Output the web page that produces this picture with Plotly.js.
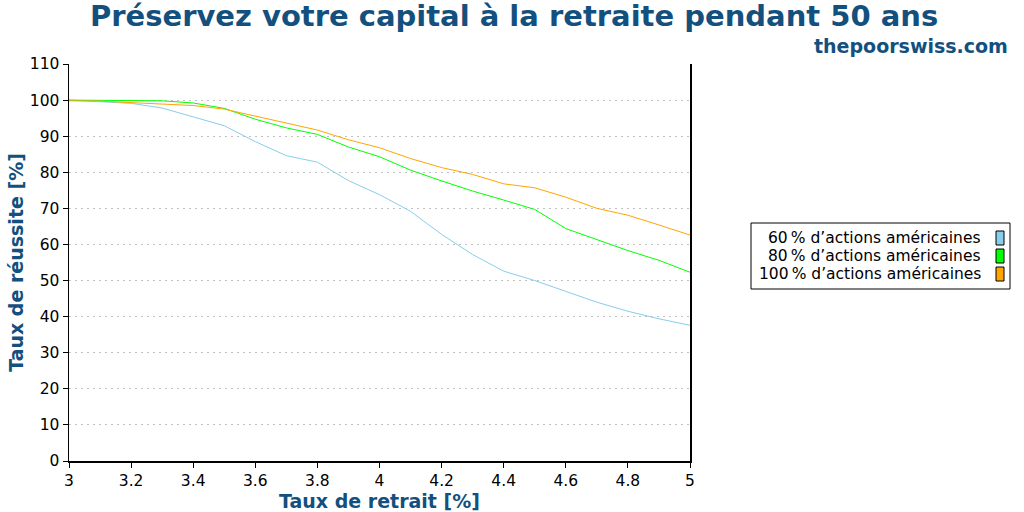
<!DOCTYPE html>
<html>
<head>
<meta charset="utf-8">
<script src="https://cdn.plot.ly/plotly-3.0.1.min.js"></script>
<style>
  body { margin: 0; background: #fff; }
  #chart { width: 1024px; height: 512px; }
</style>
</head>
<body>
<div id="chart"></div>
<script>
// taux de retrait, pas de 0.1 %
var rates = [3.0, 3.1, 3.2, 3.3, 3.4, 3.5, 3.6, 3.7, 3.8, 3.9, 4.0,
             4.1, 4.2, 4.3, 4.4, 4.5, 4.6, 4.7, 4.8, 4.9, 5.0];

var success60  = [100, 99.6, 99.1, 97.8, 95.4, 92.9, 88.5, 84.6, 82.8, 77.7, 73.8,
                  69.2, 62.8, 57.2, 52.6, 50.0, 47.0, 44.0, 41.5, 39.4, 37.6];
var success80  = [100, 100, 100, 99.8, 99.2, 97.7, 94.7, 92.3, 90.5, 87.0, 84.3,
                  80.6, 77.6, 74.8, 72.3, 69.7, 64.4, 61.4, 58.3, 55.6, 52.3];
var success100 = [99.8, 99.7, 99.3, 98.9, 98.5, 97.5, 95.6, 93.7, 91.7, 89.0, 86.8,
                  83.8, 81.3, 79.4, 76.8, 75.7, 73.1, 70.0, 68.1, 65.4, 62.6];

var seriesNames = ['60\u202f% d\u2019actions am\u00e9ricaines',
                   '80\u202f% d\u2019actions am\u00e9ricaines',
                   '100\u202f% d\u2019actions am\u00e9ricaines'];
var seriesColors = ['#87ceeb', '#00ff00', '#ffa500'];
var seriesValues = [success60, success80, success100];

var xTicks = [3, 3.2, 3.4, 3.6, 3.8, 4, 4.2, 4.4, 4.6, 4.8, 5];
var yTicks = [0, 10, 20, 30, 40, 50, 60, 70, 80, 90, 100, 110];

var blue = '#14507e';
var font = 'DejaVu Sans, sans-serif';

var data = [];
for (var i = 0; i < seriesValues.length; i++) {
    data.push({ x: rates, y: seriesValues[i], name: seriesNames[i], mode: 'lines', type: 'scatter',
                line: { color: seriesColors[i], width: 1 }, showlegend: false });
}

// légende faite à la main: texte à droite, carré de couleur à droite du texte
var L = 69, R = 690, T = 64, B = 461;
function px(x) { return (x - L) / (R - L); }
function py(y) { return (B - y) / (B - T); }

var annotations = [
    { text: '<b>Préservez votre capital à la retraite pendant 50 ans</b>', xref: 'paper', yref: 'paper',
      x: px(514), y: py(16), xanchor: 'center', yanchor: 'middle', showarrow: false,
      font: { family: font, size: 29, color: blue } },
    { text: '<b>thepoorswiss.com</b>', xref: 'paper', yref: 'paper',
      x: px(1010), y: py(46), xanchor: 'right', yanchor: 'middle', showarrow: false,
      font: { family: font, size: 19, color: blue } }
];
var shapes = [
    { type: 'rect', xref: 'paper', yref: 'paper', x0: px(751), x1: px(1010), y0: py(223), y1: py(289),
      line: { color: '#000', width: 1 }, fillcolor: '#fff' }
];
var rowY = [238, 256, 274];
for (var j = 0; j < seriesNames.length; j++) {
    annotations.push({ text: seriesNames[j], xref: 'paper', yref: 'paper', x: px(983), y: py(rowY[j]),
        xanchor: 'right', yanchor: 'middle', showarrow: false,
        font: { family: font, size: 15.5, color: '#000' } });
    shapes.push({ type: 'rect', xref: 'paper', yref: 'paper', x0: px(996), x1: px(1004),
        y0: py(rowY[j] - 7), y1: py(rowY[j] + 7), line: { color: '#000', width: 1 }, fillcolor: seriesColors[j] });
}

var layout = {
    width: 1024, height: 512,
    margin: { l: L, r: 1024 - R, t: T, b: 512 - B },
    paper_bgcolor: '#fff', plot_bgcolor: '#fff',
    font: { family: font, size: 15.5, color: '#000' },
    xaxis: { range: [3, 5], tickvals: xTicks, ticks: 'outside', ticklen: 5, tickcolor: '#000',
             showline: true, linecolor: '#000', linewidth: 1.5, showgrid: false, zeroline: false,
             title: { text: '<b>Taux de retrait [%]</b>', font: { family: font, size: 19, color: blue }, standoff: 1 } },
    yaxis: { range: [0, 110], tickvals: yTicks, ticks: 'outside', ticklen: 5, tickcolor: '#000',
             showline: true, mirror: true, linecolor: '#000', linewidth: 1.5, zeroline: false,
             showgrid: true, gridcolor: '#c0c0c0', griddash: '2px,4px', gridwidth: 1,
             title: { text: '<b>Taux de réussite [%]</b>', font: { family: font, size: 19, color: blue }, standoff: 1 } },
    annotations: annotations,
    shapes: shapes,
    showlegend: false
};

Plotly.newPlot('chart', data, layout, { staticPlot: true });
</script>
</body>
</html>
